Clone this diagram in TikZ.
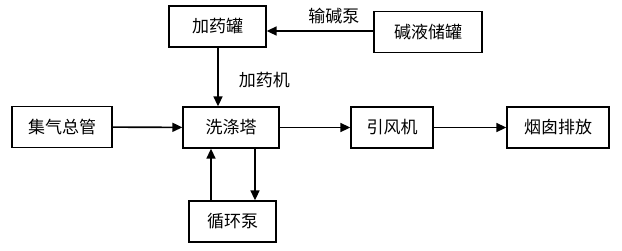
\documentclass[tikz,border=0pt]{standalone}
\usepackage{fontspec}
\setmainfont{Noto Sans CJK SC}
\usetikzlibrary{arrows.meta}
\begin{document}
\begin{tikzpicture}[x=1pt,y=-1pt,
  box/.style={draw,line width=1.3pt,minimum width=#1,minimum height=41pt,inner sep=0pt,font=\fontsize{17}{20}\selectfont},
  box/.default=96pt,
  conn/.style={line width=1.6pt,-{Triangle[length=10pt,width=9pt]}},
  lbl/.style={font=\fontsize{17}{20}\selectfont,inner sep=0pt}]
\useasboundingbox (0,0) rectangle (622,250);
\node[box=97pt] (tank) at (217.5,26.5) {加药罐};
\node[box=108pt] (lye) at (428,32) {碱液储罐};
\node[box=100pt] (gas) at (62,127) {集气总管};
\node[box=96pt] (tower) at (231,127.5) {洗涤塔};
\node[box=82pt] (fan) at (392,127.5) {引风机};
\node[box=102pt] (stack) at (558,127.5) {烟囱排放};
\node[box=87pt] (pump) at (232.5,221.5) {循环泵};
\draw[conn] (lye.west |- 0,31) -- (tank.east |- 0,31) node[lbl,pos=0.37,above=6pt] {输碱泵};
\draw[conn] (tank.south -| 218,0) -- (tower.north -| 218,0) node[lbl,pos=0.55,right=20pt] {加药机};
\draw[conn] (gas) -- (tower);
\draw[conn] (tower) -- (fan);
\draw[conn] (fan) -- (stack);
\draw[conn] (pump.north -| 211,0) -- (tower.south -| 211,0);
\draw[conn] (tower.south -| 255,0) -- (pump.north -| 255,0);
\end{tikzpicture}
\end{document}
